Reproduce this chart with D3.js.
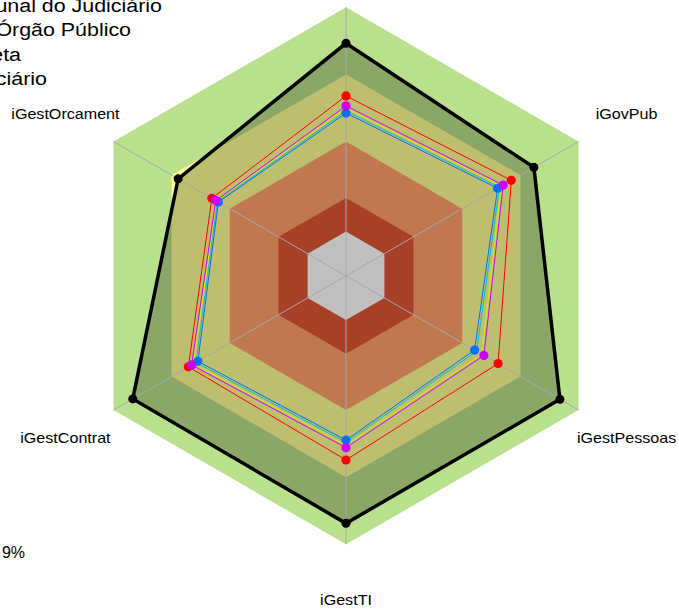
<!DOCTYPE html>
<html><head><meta charset="utf-8">
<script src="https://cdn.jsdelivr.net/npm/d3@7"></script>
<style>body{margin:0;background:#fff}svg{display:block}text{font-family:"Liberation Sans",Arial,sans-serif;fill:#000}</style>
</head><body>
<svg id="c" width="679" height="609"></svg>
<script>
// ---- data ----
const categories = ["", "iGovPub", "iGestPessoas", "iGestTI", "iGestContrat", "iGestOrcament"];
const bandLimits = [1.0, 0.75, 0.5, 0.29, 0.165];
const bandColors = ["#b9e08c", "#ffff96", "#c07850", "#a84028", "#c0c0c0"];
const metaValues    = [0.866, 0.808, 0.920, 0.922, 0.917, 0.722];
const redValues     = [0.670, 0.711, 0.654, 0.686, 0.678, 0.577];
const magentaValues = [0.633, 0.676, 0.593, 0.640, 0.664, 0.560];
const yellowValues  = [0.624, 0.668, 0.584, 0.631, 0.656, 0.556];
const cyanValues    = [0.614, 0.660, 0.562, 0.620, 0.645, 0.553];
const blueValues    = [0.606, 0.652, 0.553, 0.612, 0.637, 0.549];
const legendLabels = ["Tribunal do Judiciário", "Órgão Público", "Meta", "Judiciário"];
const noteLabel = "9%";

// ---- layout ----
const cx = 346, cy = 275.8, R = 268.5;
const svg = d3.select("#c");
const g = svg.append("g").attr("transform", `translate(${cx},${cy})`);
const r = d3.scaleLinear().domain([0, 1]).range([0, R]);
const n = categories.length;
const ang = d3.scaleLinear().domain([0, n]).range([0, 2 * Math.PI]);
const radial = d3.lineRadial().angle((d, i) => ang(i)).radius(d => r(d)).curve(d3.curveLinearClosed);
const hex = v => d3.range(n).map(() => v);

// outer bands (green, yellow)
g.append("path").attr("d", radial(hex(bandLimits[0]))).attr("fill", bandColors[0]);
g.append("path").attr("d", radial(hex(bandLimits[1]))).attr("fill", bandColors[1]);
// meta area (dark translucent)
g.append("path").attr("d", radial(metaValues)).attr("fill", "#000").attr("fill-opacity", 0.255);
// inner bands
for (let k = 2; k < bandLimits.length; k++) {
  g.append("path").attr("d", radial(hex(bandLimits[k]))).attr("fill", bandColors[k]);
}
// spokes
d3.range(n).forEach(i => {
  const a = ang(i);
  g.append("line").attr("x1", 0).attr("y1", 0)
    .attr("x2", r(1) * Math.sin(a)).attr("y2", -r(1) * Math.cos(a))
    .attr("stroke", "#a8a8a8").attr("stroke-width", 1);
});

function pt(v, i) { const a = ang(i); return [r(v) * Math.sin(a), -r(v) * Math.cos(a)]; }

// series lines
const series = [
  {v: yellowValues, c: "#e6e600", m: false},
  {v: cyanValues, c: "#00c8c8", m: false},
  {v: blueValues, c: "#0070ff", m: true},
  {v: redValues, c: "#ff0000", m: true},
  {v: magentaValues, c: "#cc00ff", m: true}
];
series.forEach(s => {
  g.append("path").attr("d", radial(s.v)).attr("fill", "none").attr("stroke", s.c).attr("stroke-width", 1);
});
// meta line
g.append("path").attr("d", radial(metaValues)).attr("fill", "none").attr("stroke", "#000").attr("stroke-width", 3.5).attr("stroke-linejoin", "miter");
metaValues.forEach((v, i) => { const p = pt(v, i); g.append("circle").attr("cx", p[0]).attr("cy", p[1]).attr("r", 4.5).attr("fill", "#000"); });
series.filter(s => s.m).forEach(s => {
  s.v.forEach((v, i) => { const p = pt(v, i); g.append("circle").attr("cx", p[0]).attr("cy", p[1]).attr("r", 4.6).attr("fill", s.c); });
});

// axis labels
categories.forEach((c, i) => {
  if (!c) return;
  const p = pt(324 / R, i);
  svg.append("text").attr("transform", `translate(${cx + p[0]},${cy + p[1] + 5}) scale(1.15,1)`)
    .attr("text-anchor", "middle").style("font-size", "14px").text(c);
});

// legend (partly cut at the left/top)
const legEnds = [162, 131, 21, 47];
const legBase = [11.5, 36, 60.5, 85];
legendLabels.forEach((t, i) => {
  svg.append("text").attr("transform", `translate(${legEnds[i]},${legBase[i]}) scale(1.19,1)`)
    .attr("text-anchor", "end").style("font-size", "18px").text(t);
});
svg.append("text").attr("x", 25).attr("y", 558).attr("text-anchor", "end").style("font-size", "16px").text(noteLabel);
</script>
</body></html>
